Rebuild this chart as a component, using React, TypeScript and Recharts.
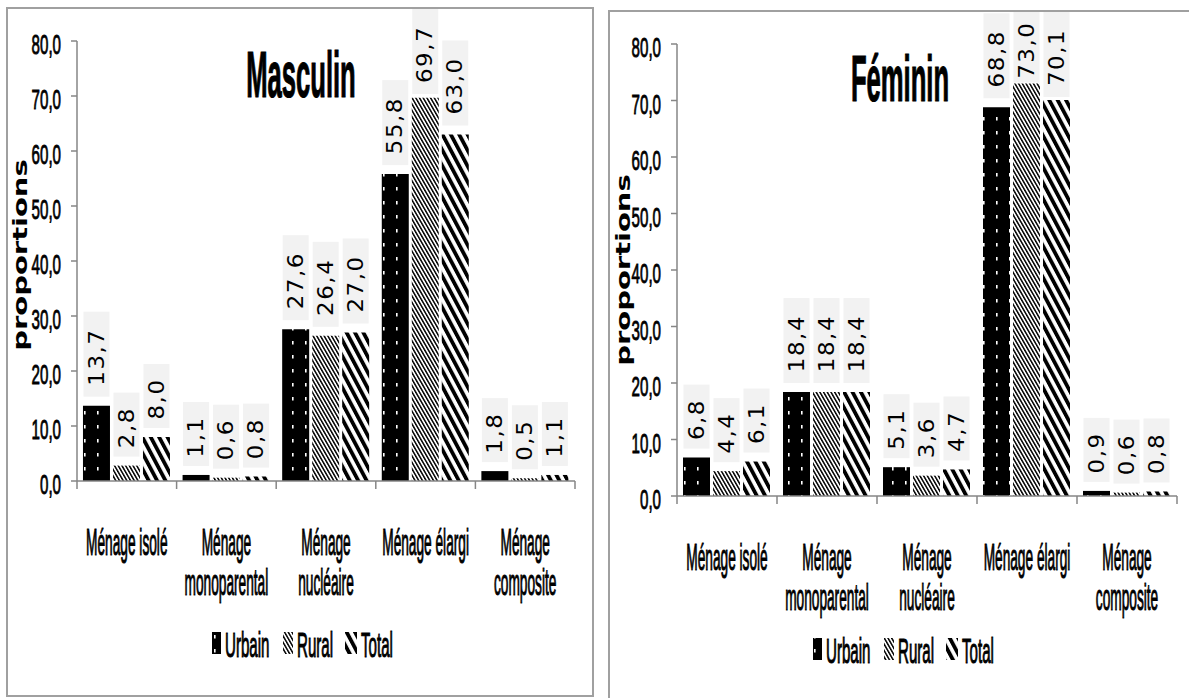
import React from 'react'
import { BarChart, Bar, XAxis, YAxis, LabelList } from 'recharts'

// categories and values
const categories = ['Ménage isolé', 'Ménage\nmonoparental', 'Ménage\nnucléaire', 'Ménage élargi', 'Ménage\ncomposite']
const seriesNames = ['Urbain', 'Rural', 'Total']

const masculinUrbain = [13.7, 1.1, 27.6, 55.8, 1.8]
const masculinRural = [2.8, 0.6, 26.4, 69.7, 0.5]
const masculinTotal = [8.0, 0.8, 27.0, 63.0, 1.1]

const femininUrbain = [6.8, 18.4, 5.1, 68.8, 0.9]
const femininRural = [4.4, 18.4, 3.6, 73.0, 0.6]
const femininTotal = [6.1, 18.4, 4.7, 70.1, 0.8]

const yTicks = [0, 10, 20, 30, 40, 50, 60, 70, 80]

const FONT = "'Liberation Sans', Arial, sans-serif"
const LABEL_FONT = "'DejaVu Sans', Verdana, sans-serif"
const AXIS = '#868686'
const H = 698

const fmt = (v: number) => v.toFixed(1).replace('.', ',')

const fills = ['url(#pat-urbain)', 'url(#pat-rural)', 'url(#pat-total)']
const keys = ['urbain', 'rural', 'total']

function Patterns() {
  return (
    <svg width={0} height={0} style={{ position: 'absolute' }}>
      <defs>
        <pattern id="pat-urbain" patternUnits="userSpaceOnUse" width={13} height={14}>
          <rect width={13} height={14} fill="#000" />
          <rect x={6} y={5} width={1.6} height={3.5} fill="#fff" />
        </pattern>
        <pattern id="pat-rural" patternUnits="userSpaceOnUse" width={3.2} height={10} patternTransform="rotate(-30)">
          <rect width={3.2} height={10} fill="#fff" />
          <rect width={1.5} height={10} fill="#000" />
        </pattern>
        <pattern id="pat-total" patternUnits="userSpaceOnUse" width={7.4} height={10} patternTransform="rotate(-28)">
          <rect width={7.4} height={10} fill="#fff" />
          <rect width={3.8} height={10} fill="#000" />
        </pattern>
      </defs>
    </svg>
  )
}

// narrow text: the reference uses a condensed face, so a regular face is squeezed sideways
function Narrow(props: { x: number; y: number; sx: number; size: number; anchor?: string; bold?: boolean; weight?: number; children: React.ReactNode }) {
  const { x, y, sx, size, anchor = 'start', bold, weight = 0.8 } = props
  return (
    <text
      transform={`translate(${x},${y}) scale(${sx},1)`}
      textAnchor={anchor as any}
      fontFamily={FONT}
      fontWeight={bold ? 'bold' : 'normal'}
      fontSize={size}
      fill="#000"
      stroke="#000"
      strokeWidth={weight}
    >
      {props.children}
    </text>
  )
}

const makeValueLabel = (minTop: number) => (props: any) => {
  const { x, y, width, value } = props
  const text = fmt(Number(value))
  const digits = text.replace(',', '').length
  const boxH = 21 * digits + 22
  const barTop = Number(y)
  const top = Math.max(minTop, barTop - 9 - boxH)
  const bottom = Math.min(top + boxH, barTop - 1)
  const cx = Number(x) + Number(width) / 2
  return (
    <g>
      <rect x={cx - 13} y={top} width={26} height={bottom - top} fill="#f2f2f2" />
      <text
        transform={`translate(${cx},${(top + bottom) / 2 + 3}) scale(0.9,1) rotate(-90)`}
        textAnchor="middle"
        dominantBaseline="central"
        fontFamily={LABEL_FONT}
        fontSize={23}
        letterSpacing={1.5}
        fill="#000"
      >
        {text}
      </text>
    </g>
  )
}

const makeCategoryTick = (halfBand: number) => (props: any) => {
  const { x, y, payload, index } = props
  const half = payload?.offset || halfBand
  const lines = String(payload.value).split('\n')
  return (
    <g>
      <line x1={x - half} x2={x - half} y1={y} y2={y + 8} stroke={AXIS} strokeWidth={1.5} />
      {index === categories.length - 1 && (
        <line x1={x + half} x2={x + half} y1={y} y2={y + 8} stroke={AXIS} strokeWidth={1.5} />
      )}
      {lines.map((l, i) => (
        <Narrow key={i} x={x} y={y + 74 + i * 40} sx={0.37} size={37} anchor="middle" weight={1.1}>
          {l}
        </Narrow>
      ))}
    </g>
  )
}

const ValueTick = (props: any) => {
  const { x, y, payload } = props
  return (
    <Narrow x={x} y={y + 13} sx={0.54} size={28} anchor="end" weight={0.9}>
      {fmt(Number(payload.value))}
    </Narrow>
  )
}

type PanelProps = {
  title: string
  urbain: number[]
  rural: number[]
  total: number[]
  left: number
  width: number
  frame: { x: number; y: number; w: number; h: number }
  plotTop: number
  plotBottom: number
  plotRight: number
  titleX: number
  titleY: number
  yLabelX: number
  yLabelY: number
  legendX: number
  legendTop: number
  minTop: number
}

function Panel(p: PanelProps) {
  const data = categories.map((name, i) => ({ name, urbain: p.urbain[i], rural: p.rural[i], total: p.total[i] }))
  const yAxisW = 77
  const halfBand = (p.plotRight - yAxisW) / categories.length / 2
  const legendItems = [
    { x: p.legendX, w: 9 },
    { x: p.legendX + 71, w: 10 },
    { x: p.legendX + 133, w: 12 },
  ]
  return (
    <div style={{ position: 'absolute', left: p.left, top: 0, width: p.width, height: H }}>
      <div
        style={{
          position: 'absolute',
          left: p.frame.x,
          top: p.frame.y,
          width: p.frame.w,
          height: p.frame.h,
          border: '2px solid #a0a0a0',
          boxSizing: 'border-box',
        }}
      />
      <svg width={p.width} height={H} style={{ position: 'absolute', left: 0, top: 0 }}>
        <Narrow x={p.titleX} y={p.titleY} sx={0.4} size={64} anchor="middle" bold weight={1.2}>
          {p.title}
        </Narrow>
        <text transform={`translate(${p.yLabelX},${p.yLabelY}) scale(0.66,1) rotate(-90)`} textAnchor="middle" fontFamily={LABEL_FONT} fontWeight="bold" fontSize={29} fill="#000">
          proportions
        </text>
        {seriesNames.map((s, i) => (
          <g key={s}>
            <rect x={legendItems[i].x} y={p.legendTop} width={legendItems[i].w} height={22} fill={fills[i]} />
            <Narrow x={legendItems[i].x + legendItems[i].w + 4} y={p.legendTop + 25} sx={0.42} size={36} weight={1.1}>
              {s}
            </Narrow>
          </g>
        ))}
      </svg>
      <div style={{ position: 'absolute', left: 0, top: 0 }}>
        <BarChart
          width={p.width}
          height={H}
          data={data}
          margin={{ top: p.plotTop, right: p.width - p.plotRight, bottom: H - p.plotBottom - 40, left: 0 }}
          barCategoryGap="6%"
          barGap={3}
        >
          <XAxis
            dataKey="name"
            height={40}
            interval={0}
            tickLine={false}
            tickSize={0}
            tickMargin={0}
            axisLine={{ stroke: AXIS, strokeWidth: 1.5 }}
            tick={makeCategoryTick(halfBand)}
          />
          <YAxis
            width={yAxisW}
            domain={[0, 80]}
            ticks={yTicks}
            interval={0}
            tickSize={6}
            tickMargin={10}
            axisLine={{ stroke: AXIS, strokeWidth: 1.5 }}
            tickLine={{ stroke: AXIS, strokeWidth: 1.5 }}
            tick={ValueTick}
          />
          {keys.map((k, i) => (
            <Bar key={k} dataKey={k} fill={fills[i]} isAnimationActive={false}>
              <LabelList dataKey={k} content={makeValueLabel(p.minTop)} />
            </Bar>
          ))}
        </BarChart>
      </div>
    </div>
  )
}

export default function App() {
  return (
    <div style={{ position: 'absolute', left: 0, top: 0, width: 1189, height: H, background: '#fff', overflow: 'hidden' }}>
      <Patterns />
      <Panel
        title="Masculin"
        urbain={masculinUrbain}
        rural={masculinRural}
        total={masculinTotal}
        left={0}
        width={595}
        frame={{ x: 6, y: 7, w: 588, h: 690 }}
        plotTop={41}
        plotBottom={481}
        plotRight={575}
        titleX={301}
        titleY={97}
        yLabelX={27}
        yLabelY={255}
        legendX={212}
        legendTop={632}
        minTop={9}
      />
      <Panel
        title="Féminin"
        urbain={femininUrbain}
        rural={femininRural}
        total={femininTotal}
        left={600}
        width={589}
        frame={{ x: 8, y: 10, w: 600, h: 700 }}
        plotTop={44}
        plotBottom={496}
        plotRight={577}
        titleX={300}
        titleY={101}
        yLabelX={30}
        yLabelY={270}
        legendX={213}
        legendTop={638}
        minTop={12}
      />
    </div>
  )
}
